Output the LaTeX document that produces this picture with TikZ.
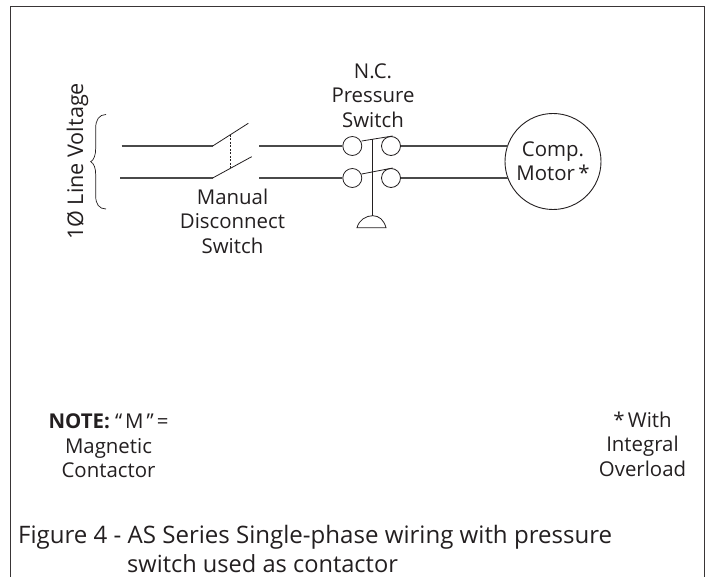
\documentclass[tikz,border=0pt]{standalone}
\usepackage{fontspec}
\setmainfont{Open Sans}
\definecolor{ink}{HTML}{231F20}
\definecolor{wire}{HTML}{4A4A4A}
\tikzset{
  x=1pt,y=-1pt,
  lab/.style={text=ink,font=\fontsize{20.4}{24.4}\selectfont,align=center,inner sep=0pt},
  captext/.style={text=ink,font=\fontsize{23.6}{28}\selectfont,anchor=base west,inner sep=0pt},
  wireline/.style={draw=wire,line width=1.2pt},
  thin wire/.style={draw=ink,line width=0.8pt},
  terminal/.style={circle,draw=ink,line width=0.8pt,minimum size=19pt,inner sep=0pt,fill=white}
}
\begin{document}
\begin{tikzpicture}
\useasboundingbox (0,0) rectangle (712,577);
\draw[draw=ink!90,line width=1.6pt] (10.5,577) -- (10.5,6.5) -- (704.5,6.5) -- (704.5,577);
\coordinate (l1) at (121.5,146);
\coordinate (l2) at (120,178);
\coordinate (b1) at (212.7,146);
\coordinate (b2) at (212.7,178);
\coordinate (t1) at (248.3,123.3);
\coordinate (t2) at (251.7,156.7);
\coordinate (d1) at (230,135);
\coordinate (d2) at (230,168);
\coordinate (r1) at (259,146);
\coordinate (r2) at (259,178);
\node[terminal] (a1) at (352.3,146) {};
\node[terminal] (a2) at (391,146) {};
\node[terminal] (c1) at (352.3,178) {};
\node[terminal] (c2) at (391,178) {};
\node[circle,draw=ink,line width=0.9pt,minimum size=96pt,inner sep=0pt] (m) at (553,161.5) {};
\coordinate (m1) at (507.5,146);
\coordinate (m2) at (507.5,178);
\draw[wireline] (l1) -- (b1);
\draw[wireline] (l2) -- (b2);
\draw[thin wire] (b1) -- (t1);
\draw[thin wire] (b2) -- (t2);
\draw[ink,line width=0.7pt,dash pattern=on 2pt off 1.5pt] (d1) -- (d2);
\draw[wireline] (r1) -- (a1.west);
\draw[wireline] (r2) -- (c1.west);
\draw[wireline] (a2.east) -- (m1);
\draw[wireline] (c2.east) -- (m2);
\coordinate (sa1) at (361.7,141);
\coordinate (sa2) at (392.7,136);
\coordinate (sb1) at (361.7,174);
\coordinate (sb2) at (392.7,168);
\draw[thin wire] (sa1) -- (sa2);
\draw[thin wire] (sb1) -- (sb2);
\coordinate (act) at (372.7,139);
\coordinate (bell) at (372.7,215.7);
\coordinate (bl) at (357,227.7);
\coordinate (br) at (386,227.7);
\draw[thin wire] (act) -- (bell);
\draw[thin wire] (bl) .. controls (359,220) and (366,215.7) .. (bell) .. controls (379,215.7) and (384,220) .. (br) -- cycle;
\coordinate (bt) at (106,114.5);
\coordinate (bm) at (90.7,161.7);
\coordinate (bb) at (106,209);
\draw[ink,line width=0.7pt] (bt) .. controls (99,114.5) and (95.7,120) .. (95.7,128) -- (95.7,148) .. controls (95.7,155) and (94,160) .. (bm) .. controls (94,163.5) and (95.7,168) .. (95.7,175) -- (95.7,196) .. controls (95.7,204) and (99,209) .. (bb);
\node[lab,rotate=90,anchor=base,font=\fontsize{21.6}{24.4}\selectfont] (v) at (83,161.5) {1Ø Line Voltage};
\node[lab] (ps) at (373,95.5) {N.C.\\Pressure\\Switch};
\node[lab] (mds) at (232.5,221) {Manual\\Disconnect\\Switch};
\node[lab] (cm) at (553,161) {Comp.\\Motor\,*};
\node[lab] (note) at (108.5,446) {\textbf{NOTE:} “\hspace{3pt}M\hspace{3pt}”\hspace{3pt}=\\Magnetic\\Contactor};
\node[lab] (ovl) at (642.5,444) {*\,With\\Integral\\Overload};
\node[captext,font=\fontsize{24.05}{28}\selectfont] (f1) at (18,543) {Figure 4 - AS Series Single-phase wiring with pressure};
\node[captext] (f2) at (127,572) {switch used as contactor};
\end{tikzpicture}
\end{document}
